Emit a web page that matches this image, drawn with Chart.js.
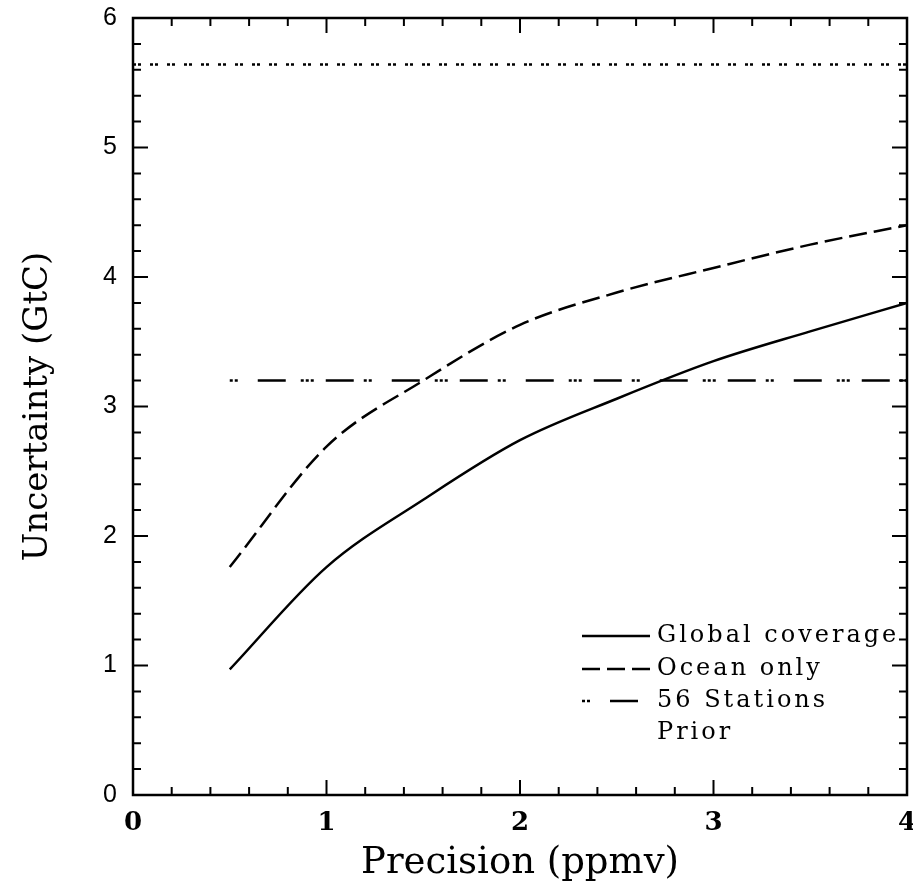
<!DOCTYPE html>
<html lang="en">
<head>
  <meta charset="UTF-8">
  <title>Uncertainty vs Precision</title>
  <style>
    body {
      margin: 0;
      padding: 0;
      background-color: #fff;
    }

    .chart-container {
      position: relative;
      width: 913px;
      height: 886px;
    }
  </style>
  <script src="https://cdn.jsdelivr.net/npm/chart.js"></script>
</head>
<body>

  <div class="chart-container">
    <canvas id="uncertaintyChart"></canvas>
  </div>

  <script>
    // Values
    const precision = [0.5, 1, 1.5, 2, 2.5, 3, 3.5, 4];
    const globalCoverage = [0.97, 1.76, 2.28, 2.74, 3.06, 3.35, 3.58, 3.80];
    const oceanOnly = [1.76, 2.69, 3.20, 3.63, 3.88, 4.07, 4.25, 4.40];
    const stationsX = [0.5, 4];
    const stations56 = [3.2, 3.2];
    const priorX = [0, 4];
    const prior = [5.64, 5.64];
    const xTicks = [0, 1, 2, 3, 4];
    const yTicks = [0, 1, 2, 3, 4, 5, 6];

    const legendLabels = ['Global coverage', 'Ocean only', '56 Stations', 'Prior'];

    function toPoints(xs, ys) {
      return xs.map((x, i) => ({ x: x, y: ys[i] }));
    }

    // Frame, inward ticks (major + minor) on all four sides, and the legend box
    const framePlugin = {
      id: 'frame',
      afterDraw(chart) {
        const ctx = chart.ctx;
        const area = chart.chartArea;
        const xs = chart.scales.x;
        const ys = chart.scales.y;
        ctx.save();
        ctx.strokeStyle = '#000';
        ctx.lineWidth = 2.5;
        ctx.strokeRect(area.left, area.top, area.right - area.left, area.bottom - area.top);

        ctx.lineWidth = 2;
        ctx.beginPath();
        for (let i = 0; i <= 20; i++) {
          const v = i * 0.2;
          const px = xs.getPixelForValue(v);
          const len = (i % 5 === 0) ? 15 : 8;
          ctx.moveTo(px, area.bottom); ctx.lineTo(px, area.bottom - len);
          ctx.moveTo(px, area.top); ctx.lineTo(px, area.top + len);
        }
        for (let i = 0; i <= 30; i++) {
          const v = i * 0.2;
          const py = ys.getPixelForValue(v);
          const len = (i % 5 === 0) ? 15 : 8;
          ctx.moveTo(area.left, py); ctx.lineTo(area.left + len, py);
          ctx.moveTo(area.right, py); ctx.lineTo(area.right - len, py);
        }
        ctx.stroke();

        // legend
        const rowY = [636, 669, 701, 733];
        ctx.font = '24px "DejaVu Serif"';
        ctx.letterSpacing = '3px';
        ctx.fillStyle = '#000';
        ctx.textBaseline = 'middle';
        chart.data.datasets.forEach((ds, i) => {
          const y = rowY[i];
          if (i < 3) {
            ctx.beginPath();
            ctx.lineWidth = ds.borderWidth;
            ctx.setLineDash(ds.borderDash || []);
            ctx.moveTo(582, y);
            ctx.lineTo(650, y);
            ctx.stroke();
            ctx.setLineDash([]);
          }
          ctx.fillText(legendLabels[i], 657, y);
        });
        ctx.restore();
      }
    };

    const ctx = document.getElementById('uncertaintyChart').getContext('2d');
    const chart = new Chart(ctx, {
      type: 'line',
      data: {
        datasets: [
          {
            label: legendLabels[0],
            data: toPoints(precision, globalCoverage),
            borderColor: '#000',
            borderWidth: 2.5,
            pointRadius: 0,
            cubicInterpolationMode: 'monotone',
            fill: false
          },
          {
            label: legendLabels[1],
            data: toPoints(precision, oceanOnly),
            borderColor: '#000',
            borderWidth: 2.5,
            borderDash: [18, 7],
            pointRadius: 0,
            cubicInterpolationMode: 'monotone',
            fill: false
          },
          {
            label: legendLabels[2],
            data: toPoints(stationsX, stations56),
            borderColor: '#000',
            borderWidth: 2.5,
            borderDash: [3, 2, 3, 20, 28, 15, 3, 2, 3, 2, 3, 12, 28, 10],
            pointRadius: 0,
            fill: false
          },
          {
            label: legendLabels[3],
            data: toPoints(priorX, prior),
            borderColor: '#000',
            borderWidth: 2.5,
            borderDash: [3, 2, 3, 9],
            pointRadius: 0,
            fill: false
          }
        ]
      },
      options: {
        responsive: true,
        maintainAspectRatio: false,
        animation: false,
        layout: {
          padding: { top: 18, right: 6, left: 0, bottom: 0 }
        },
        plugins: {
          legend: { display: false },
          tooltip: { enabled: false }
        },
        scales: {
          x: {
            type: 'linear',
            min: 0,
            max: 4,
            afterBuildTicks(scale) {
              scale.ticks = xTicks.map(v => ({ value: v }));
            },
            afterFit(scale) {
              scale.height = 91;
              scale.paddingLeft = 0;
              scale.paddingRight = 0;
            },
            grid: { display: false, drawTicks: false },
            border: { display: false },
            ticks: {
              color: '#000',
              padding: 13,
              font: { family: '"DejaVu Serif"', size: 26, weight: 'bold' }
            },
            title: {
              display: true,
              text: 'Precision (ppmv)',
              color: '#000',
              padding: { top: 0, bottom: 0 },
              font: { family: '"DejaVu Serif"', size: 37 }
            }
          },
          y: {
            type: 'linear',
            min: 0,
            max: 6,
            afterBuildTicks(scale) {
              scale.ticks = yTicks.map(v => ({ value: v }));
            },
            afterFit(scale) {
              scale.width = 133;
              scale.paddingTop = 0;
              scale.paddingBottom = 0;
            },
            grid: { display: false, drawTicks: false },
            border: { display: false },
            ticks: {
              color: '#000',
              padding: 16,
              font: { family: '"Liberation Sans"', size: 25 }
            },
            title: {
              display: true,
              text: 'Uncertainty (GtC)',
              color: '#000',
              padding: { top: 18, bottom: 0 },
              font: { family: '"DejaVu Serif"', size: 34 }
            }
          }
        }
      },
      plugins: [framePlugin]
    });
  </script>
</body>
</html>
